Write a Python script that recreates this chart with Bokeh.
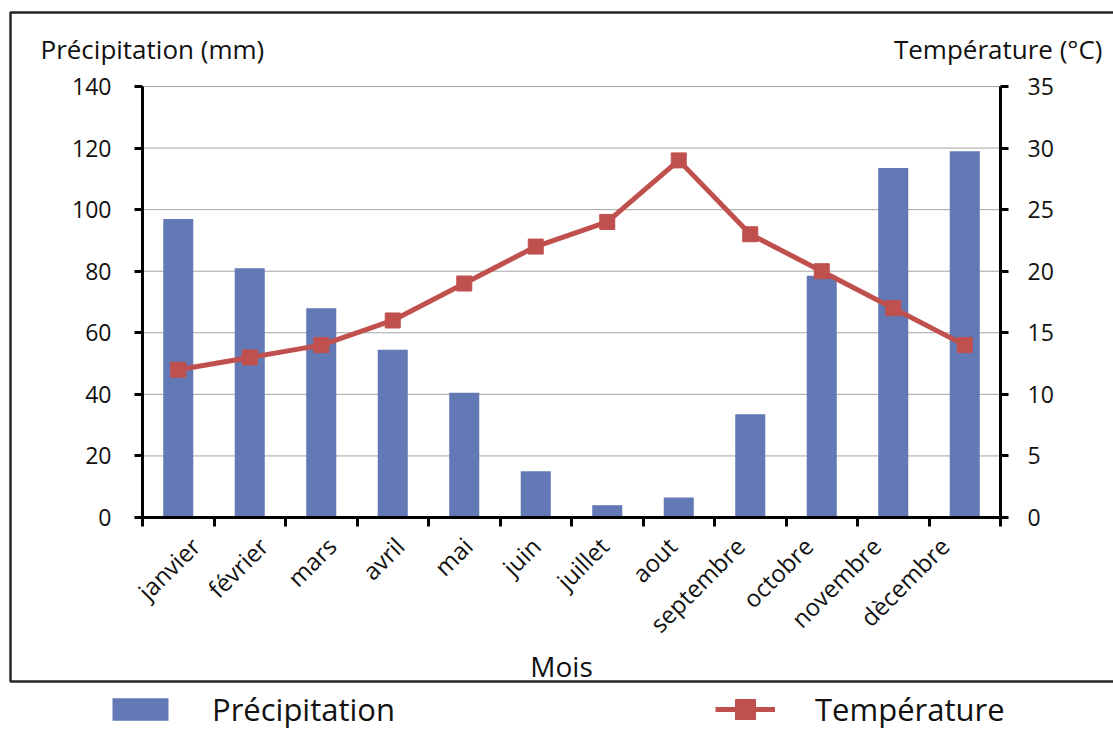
from bokeh.plotting import figure
from bokeh.models import (Range1d, LinearAxis, FixedTicker, Label, Legend, LegendItem,
                          PolyAnnotation, ColumnDataSource, Grid)
from bokeh.embed import file_html
from bokeh.resources import INLINE
from math import pi

# ---- data ----
months = ["janvier", "février", "mars", "avril", "mai", "juin", "juillet", "aout",
          "septembre", "octobre", "novembre", "dècembre"]
precipitation = [97, 81, 68, 54.5, 40.5, 15, 4, 6.5, 33.5, 78.5, 113.5, 119]
temperature = [12, 13, 14, 16, 19, 22, 24, 29, 23, 20, 17, 14]
precip_ticks = [0, 20, 40, 60, 80, 100, 120, 140]
temp_ticks = [0, 5, 10, 15, 20, 25, 30, 35]

FONT = "Open Sans"
BAR = "#6279b5"
LINE = "#c0504d"
TXT = "#111111"

W, H = 1113, 729
# pixel geometry of the plotting area (axes) inside the canvas
PX_L, PX_R, PX_T, PX_B = 142, 1000, 86, 517

n = len(months)
xpos = [i + 0.5 for i in range(n)]
bounds_x = list(range(n + 1))
# label anchor positions (slightly tighter spacing than the bars, as in the original)
LABEL_X0, LABEL_STEP = 0.74, 0.9524
label_x = [round(LABEL_X0 + LABEL_STEP * i, 4) for i in range(n)]

src = ColumnDataSource(dict(x=xpos, month=months, p=precipitation, t=temperature))

# ranges chosen so that the data area sits at the pixel box above while the frame fills the canvas
ux = (PX_R - PX_L) / n
pmax, tmax = precip_ticks[-1], temp_ticks[-1]
uyp = (PX_B - PX_T) / pmax
uyt = (PX_B - PX_T) / tmax
x_range = Range1d(-PX_L / ux, n + (W - PX_R) / ux)
y_range = Range1d(-(H - PX_B) / uyp, pmax + PX_T / uyp)
t_range = Range1d(-(H - PX_B) / uyt, tmax + PX_T / uyt)

p = figure(width=W, height=H, output_backend="svg", toolbar_location=None,
           x_range=x_range, y_range=y_range, x_axis_location=None, y_axis_location=None,
           min_border=0)
p.background_fill_color = "white"
p.border_fill_color = "white"
p.outline_line_color = None
p.extra_y_ranges = {"temp": t_range}
for r in list(p.center):
    if isinstance(r, Grid):
        r.visible = False

# horizontal gridlines between the two axes
gl = [t for t in precip_ticks if t > 0]
p.segment(x0=[0] * len(gl), x1=[n] * len(gl), y0=gl, y1=gl, line_color="#a3a3a3", line_width=1)

bars = p.vbar(x="x", top="p", width=0.42, source=src, fill_color=BAR, line_color=None)
line = p.line(x="x", y="t", source=src, y_range_name="temp", line_color=LINE, line_width=5)
pts = p.scatter(x="x", y="t", source=src, y_range_name="temp", marker="square", size=15,
                fill_color=LINE, line_color=LINE)

# x axis
xa = LinearAxis(fixed_location=0, bounds=(0, n),
                ticker=FixedTicker(ticks=label_x, minor_ticks=bounds_x))
xa.major_label_overrides = {x: m for x, m in zip(label_x, months)}
xa.major_label_orientation = pi / 4
xa.major_tick_line_color = None
xa.major_tick_out = 0
xa.major_tick_in = 0
xa.minor_tick_line_color = "black"
xa.minor_tick_line_width = 3
xa.minor_tick_out = 9
xa.minor_tick_in = 0
xa.axis_line_width = 3
xa.axis_line_color = "black"
xa.major_label_text_font = FONT
xa.major_label_text_font_size = "24px"
xa.major_label_text_color = TXT
xa.major_label_standoff = 15
p.add_layout(xa, "below")

ya = LinearAxis(fixed_location=0, bounds=(0, pmax), ticker=FixedTicker(ticks=precip_ticks))
p.add_layout(ya, "left")
ra = LinearAxis(fixed_location=n, bounds=(0, tmax), y_range_name="temp",
                ticker=FixedTicker(ticks=temp_ticks))
p.add_layout(ra, "right")

for a, so in ((ya, 23), (ra, 19)):
    a.minor_tick_line_color = None
    a.axis_line_width = 3
    a.axis_line_color = "black"
    a.major_tick_line_width = 3
    a.major_tick_line_color = "black"
    a.major_tick_out = 8
    a.major_tick_in = 0
    a.major_label_text_font = FONT
    a.major_label_text_font_size = "23px"
    a.major_label_text_color = TXT
    a.major_label_standoff = so

# texts
def lab(x, y, text, size, align="left"):
    p.add_layout(Label(x=x, y=H - y, x_units="screen", y_units="screen", text=text,
                       text_font=FONT, text_font_size=size, text_color=TXT,
                       text_baseline="alphabetic", text_align=align))

lab(40, 48, "Précipitation (mm)", "26px")
lab(1102, 48, "Température (°C)", "26px", "right")
lab(561, 665, "Mois", "28px", "center")

# outer border box
p.add_layout(PolyAnnotation(xs=[10, 1130, 1130, 10], ys=[H - 12, H - 12, H - 681, H - 681],
                            xs_units="screen", ys_units="screen", fill_color=None, fill_alpha=0,
                            line_color="#262626", line_alpha=1, line_width=2.5))

# legends below the box
leg1 = Legend(items=[LegendItem(label="Précipitation", renderers=[bars])],
              location=(105, H - 730), glyph_width=70, glyph_height=28, label_standoff=37)
leg2 = Legend(items=[LegendItem(label="Température", renderers=[line, pts])],
              location=(715, H - 734), glyph_width=60, glyph_height=50, label_standoff=40)
for lg in (leg1, leg2):
    lg.label_text_font = FONT
    lg.label_text_font_size = "31px"
    lg.label_text_color = TXT
    lg.padding = 0
    lg.margin = 0
    lg.border_line_color = None
    lg.background_fill_alpha = 0
    lg.spacing = 0
    p.add_layout(lg, "center")

open("out.html", "w").write(file_html(p, INLINE))
